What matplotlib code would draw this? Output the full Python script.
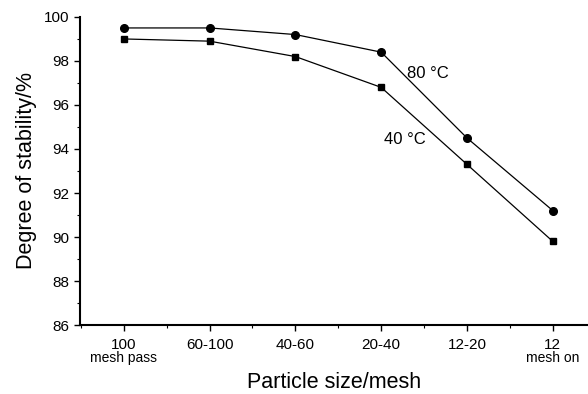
import numpy as np
import matplotlib.pyplot as plt
from matplotlib.ticker import MultipleLocator
from matplotlib.transforms import blended_transform_factory

plt.rcParams["font.family"] = ["Liberation Sans", "DejaVu Sans"]

sizes = ["100", "60-100", "40-60", "20-40", "12-20", "12"]
sub_labels = ["mesh pass", "", "", "", "", "mesh on"]
stab_80 = [99.5, 99.5, 99.2, 98.4, 94.5, 91.2]
stab_40 = [99.0, 98.9, 98.2, 96.8, 93.3, 89.8]

fig = plt.figure(figsize=(5.88, 3.94), dpi=100)
ax = fig.add_axes([0.136, 0.175, 0.864, 0.782])

x = np.arange(len(sizes))
ax.plot(x, stab_80, color="black", lw=0.9, marker="o", ms=5.5)
ax.plot(x, stab_40, color="black", lw=0.9, marker="s", ms=5)

ax.set_xlim(-0.51, 5.41)
ax.set_ylim(86, 100)
ax.set_xticks(x)
ax.set_xticklabels(sizes)
ax.xaxis.set_minor_locator(MultipleLocator(0.5))
ax.yaxis.set_major_locator(MultipleLocator(2))
ax.yaxis.set_minor_locator(MultipleLocator(1))
ax.tick_params(axis="both", which="major", direction="out", length=4, width=1, labelsize=11)
ax.tick_params(axis="x", which="major", pad=5)
ax.tick_params(axis="both", which="minor", direction="out", length=2.5, width=0.8)

for s in ["top", "right"]:
    ax.spines[s].set_visible(False)
for s in ["left", "bottom"]:
    ax.spines[s].set_linewidth(1.5)

trans = blended_transform_factory(ax.transData, ax.transAxes)
for xi, sub in zip(x, sub_labels):
    if sub:
        ax.text(xi, -0.083, sub, transform=trans, ha="center", va="top", fontsize=10)

ax.text(3.3, 97.45, "80 °C", fontsize=12, ha="left", va="center")
ax.text(3.03, 94.45, "40 °C", fontsize=12, ha="left", va="center")

ax.set_xlabel("Particle size/mesh", fontsize=15.5, labelpad=15)
ax.set_ylabel("Degree of stability/%", fontsize=15.5, labelpad=5)

fig.savefig("out.png", dpi=100)
